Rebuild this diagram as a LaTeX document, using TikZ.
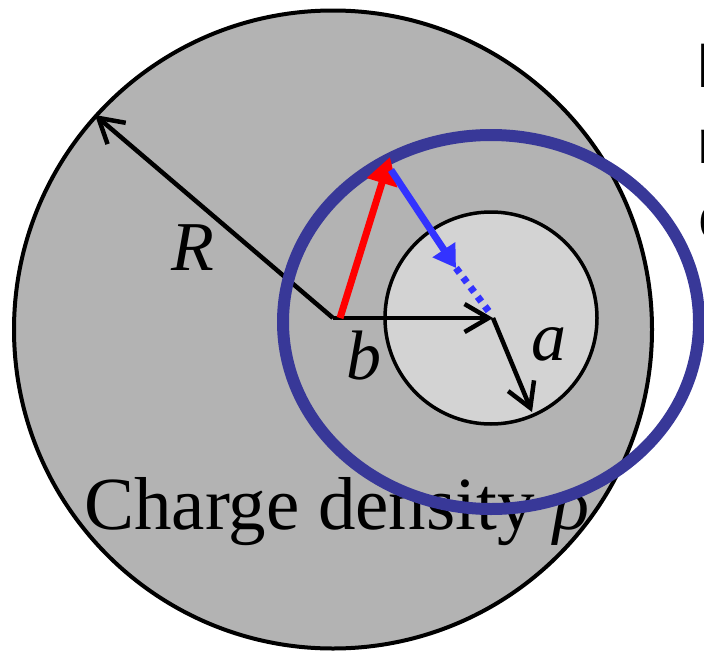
\documentclass[tikz,border=0pt]{standalone}
\usepackage{fontspec}
\setmainfont{Liberation Serif}
\newfontfamily\sansf{Liberation Sans}
\usetikzlibrary{arrows.meta}
\definecolor{bigfill}{RGB}{179,179,179}
\definecolor{smallfill}{RGB}{211,211,211}
\definecolor{ringblue}{RGB}{56,56,152}
\definecolor{arrowblue}{RGB}{51,51,255}
\tikzset{
  blackarrow/.style={line width=4.5pt, -{Straight Barb[length=24pt,width=28pt,line width=4.5pt]}},
  lbl/.style={inner sep=0pt, font=\fontsize{70}{80}\selectfont\itshape},
  edgetext/.style={inner sep=0pt, anchor=base west, font=\sansf\fontsize{63}{76}\selectfont}
}
\begin{document}
\begin{tikzpicture}[x=1pt,y=-1pt]
\useasboundingbox (0,0) rectangle (704,653);
% big sphere
\draw[line width=4pt, fill=bigfill] (333,329.5) circle[radius=319pt];
% cavity
\draw[line width=3.5pt, fill=smallfill] (491,318) circle[radius=106pt];
\coordinate (O) at (333,318);
\coordinate (C) at (493,318);
\coordinate (Rend) at (95,115);
\coordinate (aend) at (532,412);
\coordinate (P) at (390,157);
\coordinate (Q) at (340,318);
\coordinate (B0) at (391,170);
\coordinate (B1) at (456,268);
\coordinate (B2) at (490,313);
% labels
\node[lbl] (Rl) at (193,248) {R};
\node[lbl] (bl) at (364,356) {b};
\node[lbl] (al) at (549,344) {a};
\node[inner sep=0pt, anchor=base west, font=\fontsize{75}{84}\selectfont] (cd) at (84,529) {Charge density \textit{ρ}};
% black arrows
\draw[blackarrow] (O) -- (Rend);
\draw[blackarrow] (O) -- (C);
\draw[blackarrow] (C) -- (aend);
% blue ring
\draw[line width=12pt, ringblue] (491,322) ellipse[x radius=208pt, y radius=187pt];
% red arrow
\draw[line width=7pt, red, -{Triangle[length=27pt,width=30pt]}] (Q) -- (P);
% blue arrow and dotted continuation
\draw[line width=7pt, arrowblue, -{Triangle[length=22pt,width=26pt]}] (B0) -- (B1);
\draw[line width=7pt, arrowblue, dash pattern=on 6pt off 6pt] (B1) -- (B2);
% partial text at the right edge
\node[edgetext] (t1) at (696,87) {E};
\node[edgetext] (t2) at (697,163) {n};
\node[edgetext] (t3) at (698,239) {c};
\end{tikzpicture}
\end{document}
